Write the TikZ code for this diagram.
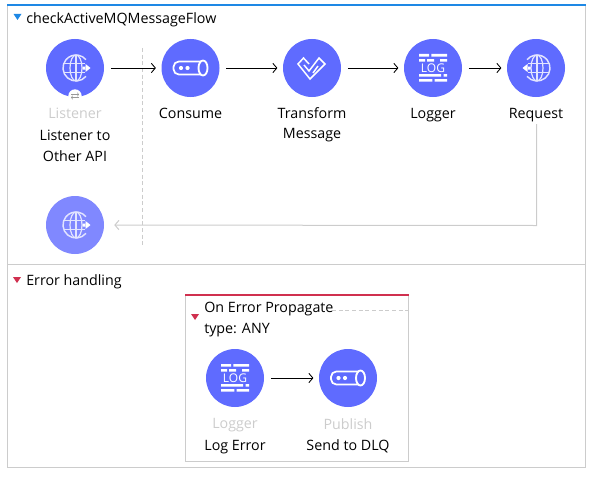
\documentclass[tikz,border=0pt]{standalone}
\usepackage{fontspec}
\setmainfont{Open Sans}
\usetikzlibrary{arrows.meta,positioning}
\definecolor{muleblue}{HTML}{5F6BFF}
\definecolor{mulefade}{HTML}{8088FF}
\definecolor{mulegrey}{HTML}{CCCCCC}
\definecolor{mulesky}{HTML}{1E88E5}
\definecolor{mulered}{HTML}{D0304F}
\definecolor{muleline}{HTML}{E2E4FF}

\tikzset{
  globeicon/.pic={
    \draw[muleline, line width=1.1pt] (40:13) arc [start angle=40, end angle=320, radius=13];
    \draw[muleline, line width=.9pt] (0,0) ellipse [x radius=6, y radius=13];
    \draw[muleline, line width=.9pt] (0,-13) -- (0,13) (-12,-4.5) -- (9,-4.5) (-12,4.5) -- (9,4.5);
    \fill[white] (6.5,-1.5) rectangle (10,1.5) (9.5,-4) -- (14.5,0) -- (9.5,4) -- cycle;
  },
  tubeicon/.pic={
    \draw[white, line width=1.3pt, rounded corners=4pt] (11,-6.5) -- (-17,-6.5) -- (-17,6.5) -- (11,6.5);
    \draw[white, line width=1.4pt, fill=muleblue] (12.5,0) ellipse [x radius=4.5, y radius=7.5];
    \fill[white] (-9.5,0) circle [radius=2.1] (-3,0) circle [radius=2.1];
  },
  wavesicon/.pic={
    \draw[white, line width=1.1pt, line join=miter] (-3,-4) -- (-8.5,-10) -- (-14,-4) -- (-2,11) -- (13,-4) -- (7,-10) -- (-3,3) -- (-8,-3);
    \draw[white, line width=1.1pt] (1,5) -- (6,-2);
  },
  logicon/.pic={
    \fill[white] (-14,-14) rectangle (-4,-11.3) (-1.7,-14) rectangle (14,-11.3)
      (-14,-9) rectangle (-8,-6.3) (-6,-9) rectangle (1,-6.3) (7,-9) rectangle (14,-6.3)
      (-14,6) rectangle (8,8.7) (10.7,6) rectangle (14,8.7)
      (-14,11) rectangle (-.7,13.7) (1.7,11) rectangle (14,13.7);
    \node[text=white, inner sep=0pt, font=\fontsize{9}{9}\selectfont, text height=6.5pt, text depth=0pt] at (0,0) {LOG};
  }
}

\begin{document}
\begin{tikzpicture}[
  x=.75pt, y=-.75pt,
  flownode/.style={circle, draw=none, fill=muleblue, minimum size=43.5pt, inner sep=0pt},
  fadenode/.style={flownode, fill=mulefade},
  capt/.style={font=\fontsize{10.7}{15.4}\selectfont, align=center, inner sep=0pt},
  head/.style={font=\fontsize{10.7}{15.2}\selectfont, align=left, inner sep=0pt, anchor=west},
  step arrow/.style={-{Straight Barb[length=3pt,width=7pt]}, line width=.65pt, shorten >=4pt, shorten <=5pt},
  back arrow/.style={-{Straight Barb[length=3pt,width=7pt]}, mulegrey, line width=.75pt, shorten >=7.5pt},
  frame/.style={mulegrey, line width=.75pt}
]
\useasboundingbox (0,0) rectangle (598,478);

% Outer frame and the two bands
\draw[frame] (7.5,5) -- (7.5,467.5) -- (585.5,467.5) -- (585.5,5);
\draw[frame] (7.5,264.5) -- (585.5,264.5);
\draw[mulesky, line width=1.5pt] (7,5) -- (586,5);
\draw[frame] (185.5,295) rectangle (408,461);
\draw[frame, densely dashed] (332,310) -- (408,310);
\draw[mulered, line width=1.5pt] (185,295) -- (408.5,295);
\draw[frame, densely dashed] (142.5,48) -- (142.5,245);

% Section markers and titles
\fill[mulesky] (13.5,14) -- (21.5,14) -- (17.5,20) -- cycle;
\fill[mulered] (13,277) -- (21,277) -- (17,283) -- cycle;
\fill[mulered] (191,314) -- (199,314) -- (195,320) -- cycle;
\node[head] (flowtitle) at (26,19.5) {checkActiveMQMessageFlow};
\node[head] (errtitle) at (26,281.5) {Error handling};
\node[head] (proptitle) at (204,319.5) {On Error Propagate\\type: ANY};

% Main flow
\node[flownode] (listener) at (75,68) {};
\node[flownode] (consume) at (190.5,68) {};
\node[flownode] (transform) at (312,68) {};
\node[flownode] (logger) at (433,68) {};
\node[flownode] (request) at (536,68) {};
\node[fadenode] (response) at (75,225) {};

\pic at (76,68) {globeicon};
\pic at (190.5,68) {tubeicon};
\pic at (312,68) {wavesicon};
\pic at (433,68) {logicon};
\pic[xscale=-1] at (537,68) {globeicon};
\pic at (76,225) {globeicon};

% Little badge on the source
\node[circle, fill=white, minimum size=10pt, inner sep=0pt] (badge) at (75,96) {};
\draw[gray!80, line width=.4pt, -{To[length=1.5pt,width=3pt]}] ([shift={(-4,-1.5)}]badge.center) -- ([shift={(4,-1.5)}]badge.center);
\draw[gray!80, line width=.4pt, -{To[length=1.5pt,width=3pt]}] ([shift={(4,1.5)}]badge.center) -- ([shift={(-4,1.5)}]badge.center);

\node[capt, below=8pt of listener] (listenertext) {\textcolor{mulegrey}{Listener}\\[1pt]Listener to\\Other API};
\node[capt, below=8pt of consume] (consumetext) {Consume};
\node[capt, below=7.4pt of transform] (transformtext) {Transform\\Message};
\node[capt, below=8pt of logger] (loggertext) {Logger};
\node[capt, below=8pt of request] (requesttext) {Request};

\draw[step arrow] (listener) -- (consume);
\draw[step arrow] (consume) -- (transform);
\draw[step arrow] (transform) -- (logger);
\draw[step arrow] (logger) -- (request);

% Return path
\coordinate (leave) at (536.5,124);
\coordinate (turn) at (536.5,225.5);
\draw[back arrow] (leave) -- (turn) -- (response);

% Error handler
\node[flownode] (logerr) at (235,378) {};
\node[flownode] (publish) at (348,378) {};
\pic at (235,378) {logicon};
\pic at (348,378) {tubeicon};
\node[capt, below=8pt of logerr] (logerrtext) {\textcolor{mulegrey}{Logger}\\[1pt]Log Error};
\node[capt, below=8pt of publish] (publishtext) {\textcolor{mulegrey}{Publish}\\[1pt]Send to DLQ};
\draw[step arrow] (logerr) -- (publish);

\end{tikzpicture}
\end{document}
